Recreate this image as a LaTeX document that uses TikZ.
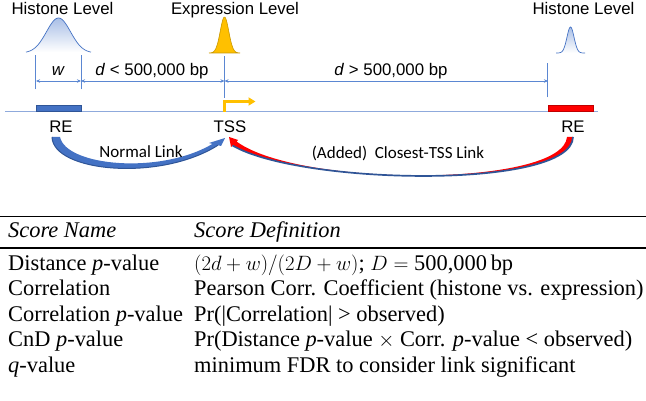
\documentclass[tikz,border=0pt]{standalone}
\usepackage{fontspec}
\setmainfont{Liberation Serif}
\newfontfamily\diagfont{Liberation Sans}
\newfontfamily\linkfont{Carlito}
\usetikzlibrary{arrows.meta}
\definecolor{reblue}{HTML}{4472C4}
\definecolor{redge}{HTML}{2F5597}
\definecolor{genome}{HTML}{8FAADC}
\definecolor{dimblue}{HTML}{5B87D2}
\definecolor{histfill}{HTML}{A9BFE6}
\definecolor{exprfill}{HTML}{FFC000}
\definecolor{exprline}{HTML}{C99700}
\definecolor{rered}{HTML}{FF0000}
\definecolor{reredge}{HTML}{C00000}
\tikzset{
  label text/.style={font=\diagfont\fontsize{16.8}{19}\selectfont, inner sep=0pt, anchor=base},
  link text/.style={font=\linkfont\fontsize{17}{20}\selectfont, inner sep=0pt, anchor=base},
  cell/.style={font=\fontsize{22.4}{25}\selectfont, inner sep=0pt, anchor=base west},
  rebox/.style={minimum width=45pt, minimum height=5.5pt, inner sep=0pt, line width=0.5pt},
  dimline/.style={color=dimblue, line width=0.8pt},
  dimarrow/.style={color=dimblue, line width=0.8pt, {Stealth[length=4pt,width=3.5pt]}-{Stealth[length=4pt,width=3.5pt]}},
  histline/.style={color=reblue, line width=0.7pt},
}
\begin{document}
\begin{tikzpicture}[x=1pt,y=-1pt]
    \useasboundingbox (0,0) rectangle (646,401);
    % genome axis and regulatory elements
    \draw[genome, line width=1.2pt] (5,111.7) -- (598,111.7);
    \node[rebox, fill=reblue, draw=redge] (boxL) at (58.5,108.5) {};
    \node[rebox, fill=rered, draw=reredge] (boxR) at (570.5,108.5) {};
    \coordinate (tss) at (224.5,111.7);
    % level curves
    \shade[top color=histfill, bottom color=white] plot[domain=26:91, samples=60] (\x,{53-35*exp(-(((\x-58.5)/17)^2))}) -- cycle;
    \draw[histline] plot[domain=26:91, samples=60] (\x,{53-35*exp(-(((\x-58.5)/17)^2))});
    \filldraw[fill=exprfill, draw=exprline, line width=0.6pt] plot[domain=209:240, samples=60] (\x,{53-36*exp(-(((\x-224.5)/6)^2))}) -- cycle;
    \shade[top color=histfill, bottom color=white] plot[domain=556:585, samples=50] (\x,{53-26*exp(-(((\x-570.5)/5)^2))}) -- cycle;
    \draw[histline] plot[domain=556:585, samples=50] (\x,{53-26*exp(-(((\x-570.5)/5)^2))});
    % extension lines
    \draw[dimline] (boxL.north west) ++(0,-16) -- ++(0,-34);
    \draw[dimline] (boxL.north east) ++(0,-16) -- ++(0,-34);
    \draw[dimline] (tss) ++(0,-13.7) -- ++(0,-42);
    \draw[dimline] (boxR.north west) ++(0,-8) -- ++(0,-34);
    \coordinate (dA) at (36,81);
    \coordinate (dB) at (81,81);
    \coordinate (dC) at (224.5,81);
    \coordinate (dD) at (548,81);
    \draw[dimarrow] (dA) -- (dB);
    \draw[dimarrow] (dB) -- (dC);
    \draw[dimarrow] (dC) -- (dD);
    \node[label text] (wlab) at (58.5,76) {\textit{w}};
    \node[label text] (dnear) at (152,76) {\textit{d} < 500,000 bp};
    \node[label text] (dfar) at (391,76) {\textit{d} > 500,000 bp};
    \node[label text] (histL) at (62.5,15) {Histone Level};
    \node[label text] (expr) at (235,15) {Expression Level};
    \node[label text] (histR) at (583.5,15) {Histone Level};
    % TSS
    \draw[exprfill, line width=2.6pt, -{Triangle[length=7pt,width=8pt]}] (tss) -- ++(0,-10.2) -- ++(31,0);
    \node[label text] (reL) at (61,133) {RE};
    \node[label text] (tssL) at (230,133) {TSS};
    \node[label text] (reR) at (573,133) {RE};
    % links
    \coordinate (nlTip) at (225,138);
    \coordinate (clTip) at (229,137);
    \fill[reblue] (52,137) .. controls (53,172) and (160,182) .. (218,145.2) -- (221,146) -- (nlTip) -- (209,143) -- (212.5,143.9) .. controls (160,175) and (66,166) .. (60,137) -- cycle;
    \draw[redge, line width=1pt] (52,137) .. controls (53,172) and (160,182) .. (218,145.2);
    \fill[rered] (573,137) .. controls (572,190) and (300,185) .. (232.5,145.5) -- (231,147) -- (clTip) -- (238,140) -- (236.5,141.5) .. controls (300,188) and (563,187) .. (567,137) -- cycle;
    \draw[redge, line width=1.7pt] (573,137) .. controls (572,190) and (300,185) .. (232.5,145.5);
    \node[link text] (nlLab) at (141,158) {Normal Link};
    \node[link text] (clLab) at (398,159) {(Added)\ \ Closest-TSS Link};
    % score table
    \draw[line width=1.8pt] (0,216.5) -- (646,216.5);
    \node[cell] (hName) at (8,238) {\textit{Score Name}};
    \node[cell] (hDef) at (194,238) {\textit{Score Definition}};
    \draw[line width=1.1pt] (0,248) -- (646,248);
    \node[cell] (nDist) at (8,270) {Distance \textit{p}-value};
    \node[cell] (vDist) at (194,270) {$(2d+w)/(2D+w)$; $D=\mbox{500,000\,bp}$};
    \node[cell] (nCorr) at (8,295.5) {Correlation};
    \node[cell] (vCorr) at (194,295.5) {Pearson Corr. Coefficient (histone vs. expression)};
    \node[cell] (nCorrP) at (8,321) {Correlation \textit{p}-value};
    \node[cell] (vCorrP) at (194,321) {Pr(|Correlation| > observed)};
    \node[cell] (nCnD) at (8,346.5) {CnD \textit{p}-value};
    \node[cell] (vCnD) at (194,346.5) {Pr(Distance \textit{p}-value $\times$ Corr. \textit{p}-value < observed)};
    \node[cell] (nQ) at (8,372) {\textit{q}-value};
    \node[cell] (vQ) at (194,372) {minimum FDR to consider link significant};
\end{tikzpicture}
\end{document}
